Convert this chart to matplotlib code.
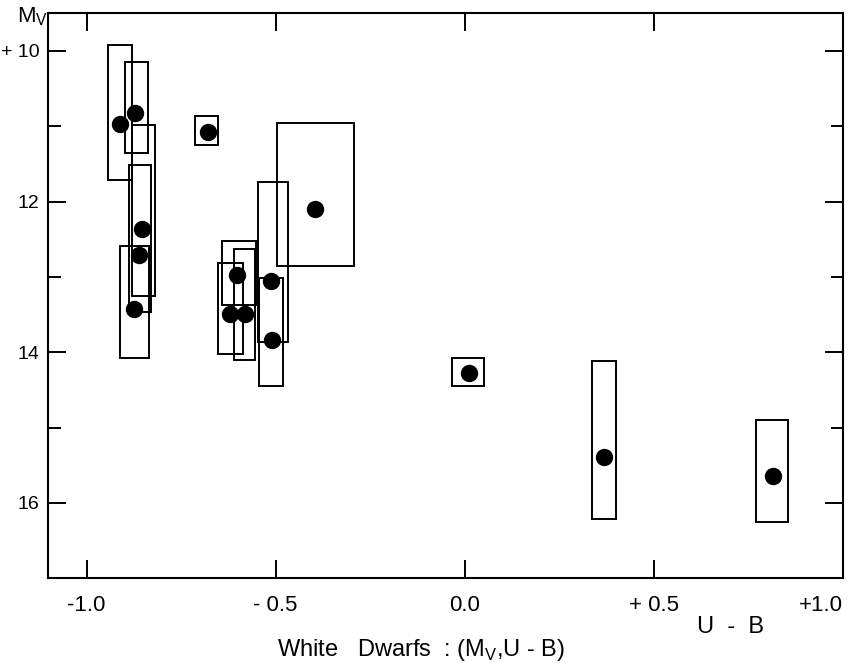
import matplotlib
matplotlib.use("Agg")
import matplotlib.pyplot as plt
from matplotlib.patches import Rectangle

# star positions (U-B colour, absolute magnitude)
u_b = [-0.912, -0.871, -0.853, -0.862, -0.874, -0.680, -0.601, -0.622,
       -0.582, -0.513, -0.511, -0.397, 0.012, 0.369, 0.814]
m_v = [10.97, 10.82, 12.37, 12.71, 13.43, 11.07, 12.97, 13.49,
       13.49, 13.05, 13.84, 12.10, 14.27, 15.39, 15.65]

# error boxes around each star
box_ub_lo = [-0.944, -0.899, -0.880, -0.887, -0.911, -0.713, -0.643, -0.653,
             -0.611, -0.547, -0.544, -0.496, -0.033, 0.337, 0.770]
box_ub_hi = [-0.881, -0.838, -0.820, -0.829, -0.835, -0.652, -0.552, -0.587,
             -0.554, -0.467, -0.480, -0.293, 0.051, 0.400, 0.854]
box_mv_lo = [9.92, 10.15, 10.99, 11.51, 12.59, 10.86, 12.52, 12.81,
             12.63, 11.74, 13.02, 10.96, 14.08, 14.12, 14.90]
box_mv_hi = [11.72, 11.36, 13.26, 13.47, 14.08, 11.25, 13.38, 14.02,
             14.11, 13.87, 14.45, 12.86, 14.45, 16.21, 16.26]

x_ticks = [-1.0, -0.5, 0.0, 0.5, 1.0]
x_tick_labels = ["-1.0", "- 0.5", "0.0", "+ 0.5", "+1.0"]
y_ticks = [10, 12, 14, 16]
y_tick_labels = ["+ 10", "12", "14", "16"]
y_minor = [11, 13, 15]


def main():
    plt.rcParams["font.family"] = ["Liberation Sans", "DejaVu Sans"]
    plt.rcParams["mathtext.fontset"] = "custom"
    plt.rcParams["mathtext.rm"] = "Liberation Sans"
    fig = plt.figure(figsize=(8.48, 6.63), dpi=100)
    ax = fig.add_axes([0.0566, 0.128, 0.9375, 0.852])

    for lo, hi, ylo, yhi in zip(box_ub_lo, box_ub_hi, box_mv_lo, box_mv_hi):
        ax.add_patch(Rectangle((lo, ylo), hi - lo, yhi - ylo, fill=False,
                               edgecolor="black", linewidth=1.4))
    ax.plot(u_b, m_v, "o", color="black", markersize=11.5, zorder=3)

    ax.set_xlim(-1.102, 1.0)
    ax.set_ylim(17.0, 9.5)

    ax.set_xticks(x_ticks)
    ax.set_xticklabels(x_tick_labels)
    ax.get_xticklabels()[-1].set_horizontalalignment("right")
    ax.set_yticks(y_ticks)
    ax.set_yticklabels(y_tick_labels)
    ax.set_yticks(y_minor, minor=True)

    ax.tick_params(which="both", direction="in", top=True, right=True,
                   width=1.4, labelsize=14)
    ax.tick_params(axis="x", which="major", length=13, pad=12, labelsize=16)
    ax.tick_params(axis="y", which="major", length=13, pad=6)
    ax.tick_params(axis="y", which="minor", length=9)
    for s in ax.spines.values():
        s.set_linewidth(1.5)

    fig.text(0.02, 0.975, r"M$_\mathrm{V}$", fontsize=16, va="center", ha="left")
    fig.text(0.861, 0.055, "U  -  B", fontsize=17, ha="center", va="center")
    fig.text(0.497, 0.019, r"White   Dwarfs  : (M$_\mathrm{V}$,U - B)", fontsize=17,
             ha="center", va="center")

    fig.savefig("out.png", dpi=100)


if __name__ == "__main__":
    main()
